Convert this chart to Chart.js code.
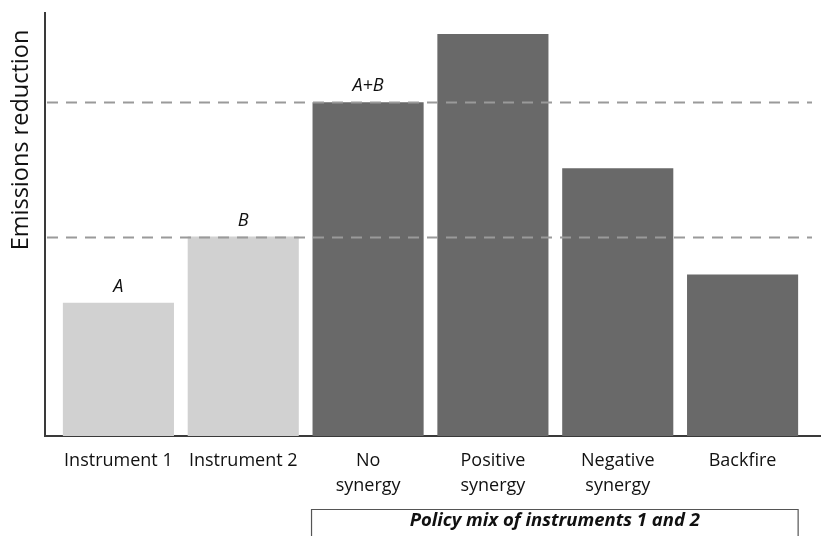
<!DOCTYPE html>
<html>
<head>
<meta charset="utf-8">
<script src="https://cdn.jsdelivr.net/npm/chart.js@4"></script>
<style>
html,body{margin:0;padding:0;background:#fff;}
#wrap{width:821px;height:536px;position:relative;}
</style>
</head>
<body>
<div id="wrap"><canvas id="c" width="821" height="536"></canvas></div>
<script>
const categories = ["Instrument 1", "Instrument 2", ["No", "synergy"], ["Positive", "synergy"], ["Negative", "synergy"], "Backfire"];
const values = [133, 199, 333, 401, 267, 161];
const barLabels = ["A", "B", "A+B", "", "", ""];
const referenceLines = [333, 199];
const yAxisTitle = "Emissions reduction";
const groupLabel = "Policy mix of instruments 1 and 2";
const lightColor = "#d1d1d1";
const darkColor = "#696969";
const barColors = [lightColor, lightColor, darkColor, darkColor, darkColor, darkColor];
const FONT = "'Open Sans', sans-serif";

const decor = {
  id: 'decor',
  beforeDatasetsDraw(chart) {
    const ctx = chart.ctx, ca = chart.chartArea;
    ctx.save();
    ctx.strokeStyle = '#3a3a3a';
    ctx.lineWidth = 2;
    ctx.beginPath();
    ctx.moveTo(45, 12);
    ctx.lineTo(45, ca.bottom);
    ctx.lineTo(821, ca.bottom);
    ctx.stroke();
    ctx.restore();
  },
  afterDatasetsDraw(chart) {
    const ctx = chart.ctx;
    const y = chart.scales.y;
    ctx.save();
    ctx.strokeStyle = '#9a9a9a';
    ctx.lineWidth = 2;
    ctx.setLineDash([11, 8]);
    referenceLines.forEach(v => {
      const py = Math.round(y.getPixelForValue(v)) + 0.5;
      ctx.beginPath();
      ctx.moveTo(47, py);
      ctx.lineTo(812, py);
      ctx.stroke();
    });
    ctx.setLineDash([]);
    const meta = chart.getDatasetMeta(0);
    ctx.fillStyle = '#111';
    ctx.font = "italic 18px " + FONT;
    ctx.textAlign = 'center';
    ctx.textBaseline = 'middle';
    meta.data.forEach((bar, i) => {
      if (barLabels[i]) ctx.fillText(barLabels[i], bar.x, bar.y - 16);
    });
    ctx.save();
    ctx.translate(21, 140);
    ctx.rotate(-Math.PI / 2);
    ctx.font = "23.5px " + FONT;
    ctx.fillStyle = '#111';
    ctx.fillText(yAxisTitle, 0, 0);
    ctx.restore();
    const x0 = meta.data[2].x - meta.data[2].width / 2 - 1;
    const x1 = meta.data[5].x + meta.data[5].width / 2;
    ctx.strokeStyle = '#555';
    ctx.lineWidth = 1.2;
    ctx.beginPath();
    ctx.moveTo(x0, 540);
    ctx.lineTo(x0, 509.5);
    ctx.lineTo(x1, 509.5);
    ctx.lineTo(x1, 540);
    ctx.stroke();
    ctx.font = "italic bold 18.5px " + FONT;
    ctx.fillStyle = '#111';
    ctx.fillText(groupLabel, (x0 + x1) / 2, 521);
    ctx.restore();
  }
};

new Chart(document.getElementById('c'), {
  type: 'bar',
  data: {
    labels: categories,
    datasets: [{
      data: values,
      backgroundColor: barColors,
      borderWidth: 0,
      categoryPercentage: 1.0,
      barPercentage: 0.89
    }]
  },
  options: {
    responsive: false,
    animation: false,
    devicePixelRatio: 1,
    layout: { padding: { left: 56, right: 16, top: 12, bottom: 26 } },
    plugins: { legend: { display: false }, tooltip: { enabled: false } },
    scales: {
      x: {
        grid: { display: false, drawTicks: false },
        border: { display: false },
        ticks: {
          color: '#111',
          padding: 12,
          maxRotation: 0,
          autoSkip: false,
          font: { family: FONT, size: 18, lineHeight: 1.39 }
        }
      },
      y: {
        display: false,
        min: 0,
        max: 423
      }
    }
  },
  plugins: [decor]
});
</script>
</body>
</html>
